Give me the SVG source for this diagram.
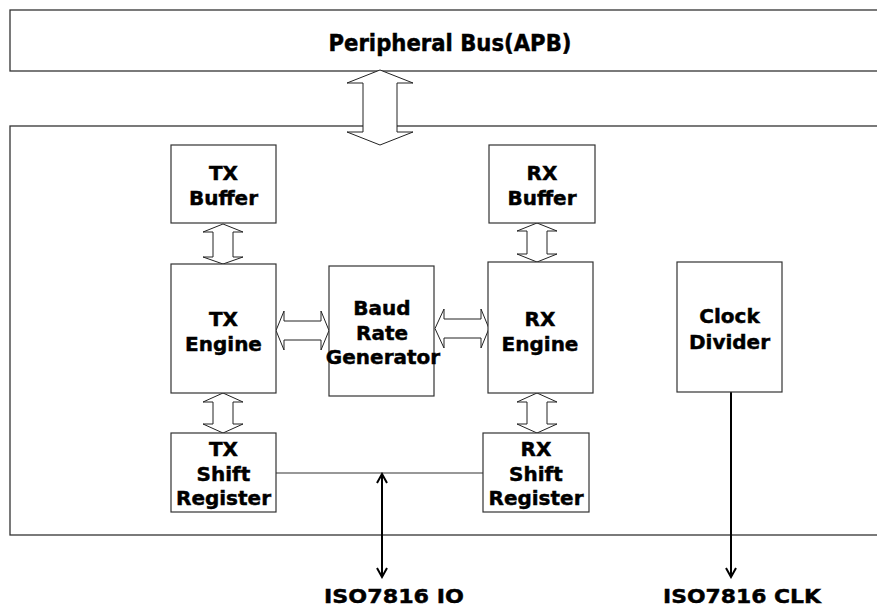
<svg xmlns="http://www.w3.org/2000/svg" width="877" height="607" viewBox="0 0 877 607">
<defs>
<style>
.frame{fill:#fff;stroke:#333;stroke-width:1.3}
.box{fill:#fff;stroke:#333;stroke-width:1.2}
.blk{fill:#fff;stroke:#222;stroke-width:1}
.t{font-family:"DejaVu Sans",Verdana,sans-serif;font-weight:bold;font-size:20px;fill:#000;stroke:#000;stroke-width:0.45;text-anchor:middle}
.wire{fill:none;stroke:#333;stroke-width:1.2}
.sig{fill:none;stroke:#000;stroke-width:2}
</style>
<marker id="chev" viewBox="0 0 12 12" refX="10" refY="6" markerWidth="12" markerHeight="12" markerUnits="userSpaceOnUse" orient="auto-start-reverse">
<path d="M1,1 L10,6 L1,11" fill="none" stroke="#000" stroke-width="2"/>
</marker>
</defs>
<rect width="877" height="607" fill="#fff"/>
<g id="bus">
<rect class="frame" x="10" y="10" width="880" height="61"/>
<text class="t" x="450" y="51" style="font-size:22.5px" textLength="243" lengthAdjust="spacingAndGlyphs">Peripheral Bus(APB)</text>
</g>
<g id="uart">
<rect class="frame" x="10" y="126" width="880" height="409"/>
</g>
<g id="connectors">
<path class="blk" d="M380,70 L413,83 L397,83 L397,132 L413,132 L380,145 L347,132 L363,132 L363,83 L347,83 Z"/>
<path class="blk" d="M223,224 L243,232 L233,232 L233,257 L243,257 L223,264 L203,257 L213,257 L213,232 L203,232 Z"/>
<path class="blk" d="M537,223 L557,231 L547,231 L547,254 L557,254 L537,262 L517,254 L527,254 L527,231 L517,231 Z"/>
<path class="blk" d="M223,393 L243,402 L233,402 L233,424 L243,424 L223,433 L203,424 L213,424 L213,402 L203,402 Z"/>
<path class="blk" d="M537,393 L557,402 L547,402 L547,424 L557,424 L537,433 L517,424 L527,424 L527,402 L517,402 Z"/>
<path class="blk" d="M276,330.5 L284,311 L284,321 L321,321 L321,311 L329,330.5 L321,350 L321,340 L284,340 L284,350 Z"/>
<path class="blk" d="M435,328.5 L444,309 L444,319 L481,319 L481,309 L489,328.5 L481,348 L481,338 L444,338 L444,348 Z"/>
<line class="wire" x1="276" y1="473" x2="483" y2="473"/>
<line class="sig" x1="382" y1="474" x2="382" y2="577" marker-start="url(#chev)" marker-end="url(#chev)"/>
<line class="sig" x1="731" y1="392" x2="731" y2="577" marker-end="url(#chev)"/>
</g>
<g id="txbuf">
<rect class="box" x="171" y="145" width="105" height="78"/>
<text class="t" x="223.5" y="180">TX</text>
<text class="t" x="223.5" y="205">Buffer</text>
</g>
<g id="rxbuf">
<rect class="box" x="489" y="145" width="106" height="78"/>
<text class="t" x="542" y="180">RX</text>
<text class="t" x="542" y="205">Buffer</text>
</g>
<g id="txeng">
<rect class="box" x="171" y="264" width="105" height="129"/>
<text class="t" x="223.5" y="326">TX</text>
<text class="t" x="223.5" y="351">Engine</text>
</g>
<g id="baud">
<rect class="box" x="329" y="266" width="105" height="130"/>
<text class="t" x="382" y="315">Baud</text>
<text class="t" x="382" y="340">Rate</text>
<text class="t" x="383" y="364">Generator</text>
</g>
<g id="rxeng">
<rect class="box" x="488" y="262" width="105" height="131"/>
<text class="t" x="540" y="326">RX</text>
<text class="t" x="540" y="351">Engine</text>
</g>
<g id="txshift">
<rect class="box" x="171" y="433" width="105" height="79"/>
<text class="t" x="223.5" y="456">TX</text>
<text class="t" x="223.5" y="481">Shift</text>
<text class="t" x="223.5" y="505">Register</text>
</g>
<g id="rxshift">
<rect class="box" x="483" y="433" width="106" height="79"/>
<text class="t" x="536" y="456">RX</text>
<text class="t" x="536" y="481">Shift</text>
<text class="t" x="536" y="505">Register</text>
</g>
<g id="clkdiv">
<rect class="box" x="677" y="262" width="105" height="130"/>
<text class="t" x="729.5" y="323">Clock</text>
<text class="t" x="729.5" y="349">Divider</text>
</g>
<g id="io">
<text class="t" x="394" y="603" textLength="140" lengthAdjust="spacingAndGlyphs">ISO7816 IO</text>
</g>
<g id="clk">
<text class="t" x="742" y="603" textLength="158" lengthAdjust="spacingAndGlyphs">ISO7816 CLK</text>
</g>
</svg>
